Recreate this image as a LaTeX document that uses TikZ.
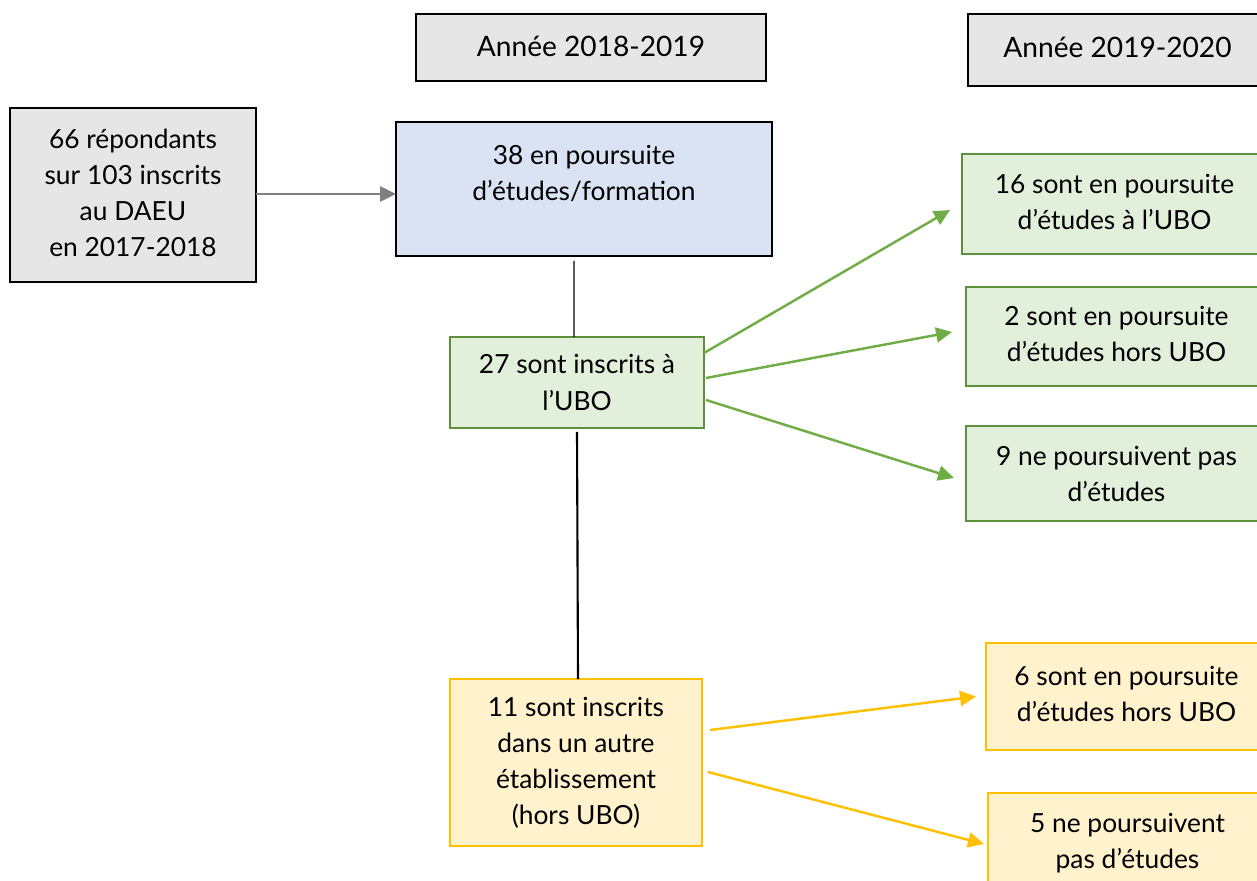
\documentclass[tikz,border=0pt]{standalone}
\usepackage{fontspec}
\setmainfont{Lato}
\usepackage{tikz}
\usetikzlibrary{arrows.meta}
\definecolor{boxgray}{HTML}{E6E6E6}
\definecolor{boxblue}{HTML}{DAE3F3}
\definecolor{boxgreen}{HTML}{E2EFDA}
\definecolor{linegreen}{HTML}{5E8F3C}
\definecolor{arrowgreen}{HTML}{70AD47}
\definecolor{boxyellow}{HTML}{FFF2CC}
\definecolor{lineyellow}{HTML}{FFC000}
\definecolor{arrowgray}{HTML}{808080}
\begin{document}
\begin{tikzpicture}[x=0.02cm, y=-0.02cm,
  every node/.style={align=center, inner sep=0pt, outer sep=0pt, font=\fontsize{15pt}{20.5pt}\selectfont},
  graybox/.style={draw=black, line width=1.1pt, fill=boxgray},
  bluebox/.style={draw=black, line width=1.1pt, fill=boxblue},
  greenbox/.style={draw=linegreen, line width=1.1pt, fill=boxgreen},
  yellowbox/.style={draw=lineyellow, line width=1.1pt, fill=boxyellow},
  tip/.style={-{Triangle[length=0.32cm, width=0.3cm]}, line width=1.4pt}]
\useasboundingbox (0,0) rectangle (1257,881);
\clip (0,0) rectangle (1257,881);

\node[graybox, minimum width=7cm, minimum height=1.34cm, font=\fontsize{16pt}{20pt}\selectfont] (hdra) at (591,47.5) {\raisebox{0.06cm}{Année 2018-2019}};
\node[graybox, minimum width=5.98cm, minimum height=1.44cm, font=\fontsize{16pt}{20pt}\selectfont] (hdrb) at (1117.5,50) {\raisebox{0.12cm}{Année 2019-2020}};

\node[graybox, minimum width=4.92cm, minimum height=3.48cm] (resp) at (133,195) {\raisebox{0.2cm}{\begin{tabular}{@{}c@{}}66 répondants\\sur 103 inscrits\\au DAEU\\en 2017-2018\end{tabular}}};
\node[bluebox, minimum width=7.52cm, minimum height=2.68cm] (pours) at (584,189) {};
\node (pourstxt) at (584,173) {38 en poursuite\\d'études/formation};

\node[greenbox, minimum width=5.08cm, minimum height=1.82cm] (ubo) at (577,382.5) {27 sont inscrits à\\l'UBO};
\node[greenbox, minimum width=6.1cm, minimum height=2cm] (uboa) at (1114.5,204) {\raisebox{0.1cm}{\begin{tabular}{@{}c@{}}16 sont en poursuite\\d'études à l'UBO\end{tabular}}};
\node[greenbox, minimum width=6.02cm, minimum height=1.98cm] (ubob) at (1116.5,336.5) {\raisebox{0.16cm}{\begin{tabular}{@{}c@{}}2 sont en poursuite\\d'études hors UBO\end{tabular}}};
\node[greenbox, minimum width=6.02cm, minimum height=1.9cm] (uboc) at (1116.5,473.5) {9 ne poursuivent pas\\d'études};

\node[yellowbox, minimum width=5.04cm, minimum height=3.34cm] (autre) at (576,762.5) {11 sont inscrits\\dans un autre\\établissement\\(hors UBO)};
\node[yellowbox, minimum width=5.62cm, minimum height=2.14cm] (autrea) at (1126.5,696.5) {\raisebox{0.4cm}{\begin{tabular}{@{}c@{}}6 sont en poursuite\\d'études hors UBO\end{tabular}}};
\node[yellowbox, minimum width=5.58cm, minimum height=2cm] (autreb) at (1127.5,843) {\raisebox{0.06cm}{\begin{tabular}{@{}c@{}}5 ne poursuivent\\pas d'études\end{tabular}}};

\draw[tip, draw=arrowgray, fill=arrowgray] (resp.east |- 0,194) -- (pours.west |- 0,194);
\draw[line width=0.6pt] ([xshift=-0.2cm, yshift=-0.1cm]pours.south) -- ([xshift=-0.06cm]ubo.north);
\draw[line width=1.2pt] ([yshift=-0.08cm]ubo.south) -- ([xshift=0.04cm]autre.north);

\draw[tip, draw=arrowgreen, fill=arrowgreen] ([yshift=0.59cm]ubo.east) -- ([xshift=-0.24cm, yshift=-0.12cm]uboa.west);
\draw[tip, draw=arrowgreen, fill=arrowgreen] ([xshift=0.04cm, yshift=0.09cm]ubo.east) -- ([xshift=-0.28cm, yshift=0.09cm]ubob.west);
\draw[tip, draw=arrowgreen, fill=arrowgreen] ([xshift=0.04cm, yshift=-0.35cm]ubo.east) -- ([xshift=-0.24cm, yshift=-0.09cm]uboc.west);

\draw[tip, draw=lineyellow, fill=lineyellow] ([xshift=0.16cm, yshift=0.65cm]autre.east) -- ([xshift=-0.2cm]autrea.west);
\draw[tip, draw=lineyellow, fill=lineyellow] ([xshift=0.12cm, yshift=-0.19cm]autre.east) -- ([xshift=-0.08cm, yshift=-0.02cm]autreb.west);
\end{tikzpicture}
\end{document}
